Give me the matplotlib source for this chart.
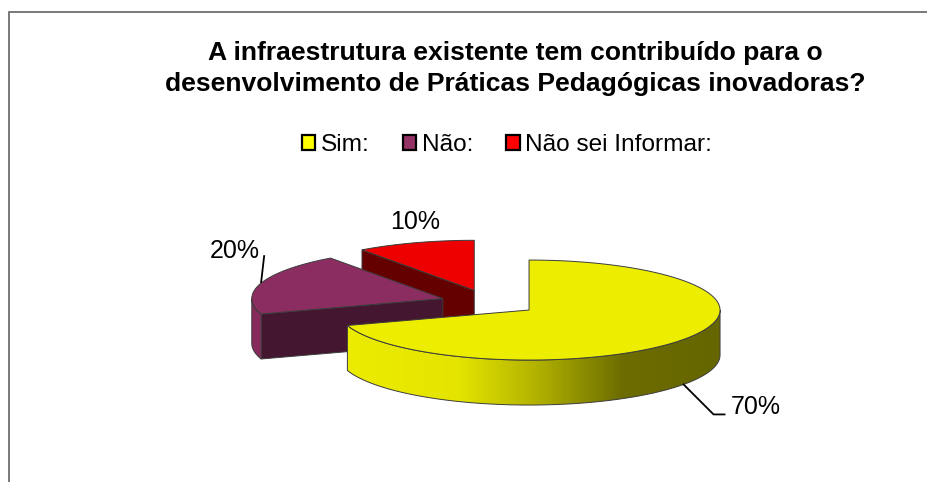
import numpy as np
import matplotlib
matplotlib.use("Agg")
import matplotlib.pyplot as plt
from matplotlib.patches import Polygon, Patch
from matplotlib.colors import LinearSegmentedColormap

plt.rcParams['font.family'] = ['Liberation Sans', 'DejaVu Sans']

# data
categories = ["Sim:", "Não:", "Não sei Informar:"]
values = [70, 20, 10]
title = "A infraestrutura existente tem contribuído para o\ndesenvolvimento de Práticas Pedagógicas inovadoras?"

# style
top_colors = ["#EDED00", "#8B2D60", "#EE0000"]
legend_colors = ["#FFFF00", "#953265", "#FF0000"]
wall_colors = [None, "#862B5C", "#6A0000"]
cut_colors = ["#6A6A00", "#45162F", "#650000"]
edge = "#3C3C3C"

# layout in pixels
W, H = 927, 482
CX, CY = 489.4, 302.5
RX, RY = 191.0, 50.0
DEPTH = 45.0
EXPLODE = 49.0

fig = plt.figure(figsize=(W / 100, H / 100), dpi=100, facecolor="white")
ax = fig.add_axes([0, 0, 1, 1])
ax.set_axis_off()


def pt(cx, cy, deg):
    """Point on the tilted circle; deg runs clockwise from 12 o'clock."""
    a = np.radians(deg)
    return cx + RX * np.sin(a), cy - RY * np.cos(a)


def arc(cx, cy, a0, a1, n=120):
    x, y = pt(cx, cy, np.linspace(a0, a1, n))
    return np.column_stack([x, y])


shares = np.array(values, dtype=float) / sum(values) * 360
starts = np.concatenate([[0], np.cumsum(shares)[:-1]])
ends = starts + shares
mids = (starts + ends) / 2
centres = [(CX + EXPLODE * np.sin(np.radians(m)),
            CY - EXPLODE * RY / RX * np.cos(np.radians(m))) for m in mids]

yellow_grad = LinearSegmentedColormap.from_list(
    "wall", [(0, "#ECEC00"), (0.30, "#E4E400"), (0.50, "#B4B400"),
             (0.74, "#6C6C00"), (1, "#666600")])

# back to front: last slice first
for i in [2, 1, 0]:
    cx, cy = centres[i]
    a0, a1 = starts[i], ends[i]
    z = 2 + (2 - i) * 3
    # cut face at the start angle, facing the viewer
    if i > 0:
        p = np.array(pt(cx, cy, a0))
        face = np.array([p, (cx, cy), (cx, cy + DEPTH), p + (0, DEPTH)])
        ax.add_patch(Polygon(face, closed=True, fc=cut_colors[i], ec=edge, lw=0.7, zorder=z))
    # outer wall: visible on the front half only
    w0, w1 = max(a0, 90), min(a1, 270)
    if w1 > w0:
        rim = arc(cx, cy, w0, w1)
        wall = np.vstack([rim, (rim + (0, DEPTH))[::-1]])
        if i == 0:
            patch = Polygon(wall, closed=True, fc="none", ec=edge, lw=0.7, zorder=z + 1)
            ax.add_patch(patch)
            im = ax.imshow(np.linspace(0, 1, 256)[None, :], cmap=yellow_grad, aspect="auto",
                           extent=[wall[:, 0].min(), wall[:, 0].max(), wall[:, 1].max(), wall[:, 1].min()],
                           zorder=z, vmin=0, vmax=1)
            im.set_clip_path(patch)
        else:
            ax.add_patch(Polygon(wall, closed=True, fc=wall_colors[i], ec=edge, lw=0.7, zorder=z))
    # top surface
    top = np.vstack([[(cx, cy)], arc(cx, cy, a0, a1)])
    ax.add_patch(Polygon(top, closed=True, fc=top_colors[i], ec=edge, lw=0.7, zorder=z + 2))

ax.set_xlim(0, W)
ax.set_ylim(H, 0)

# data labels and leaders
lw = 1.3
x0, y0 = pt(*centres[0], mids[0])
y0 += DEPTH
ax.plot([x0, x0 + 30, x0 + 41], [y0, y0 + 30, y0 + 30], color="black", lw=lw, zorder=20)
ax.text(x0 + 47, y0 + 30, f"{values[0]}%", fontsize=18, ha="left", va="baseline", zorder=20)

x1, y1 = pt(*centres[1], mids[1])
ax.plot([x1, x1 + 3], [y1 - 1, y1 - 27], color="black", lw=lw, zorder=20)
ax.text(x1 - 1, y1 - 25, f"{values[1]}%", fontsize=18, ha="right", va="baseline", zorder=20)

x2, y2 = pt(*centres[2], mids[2])
ax.text(x2, y2 - 14, f"{values[2]}%", fontsize=18, ha="center", va="baseline", zorder=20)

# frame: only the top and left rules fall inside the picture
ax.plot([9, 9, W], [H, 12, 12], color="#6E6E6E", lw=1.3, zorder=1, solid_joinstyle="miter")

ax.text(515, 68.5, title, fontsize=19.05, fontweight="bold", ha="center", va="center",
        linespacing=1.36, color="black")

handles = [Patch(fc=c, ec="black", lw=1.6) for c in legend_colors]
ax.legend(handles, categories, loc="center left", bbox_to_anchor=(302 / W, 1 - 145 / H),
          ncol=3, frameon=False, fontsize=17.6, handlelength=0.55, handleheight=0.55,
          handletextpad=0.22, columnspacing=1.36, borderpad=0, borderaxespad=0)

fig.savefig("out.png", dpi=100, facecolor="white")
